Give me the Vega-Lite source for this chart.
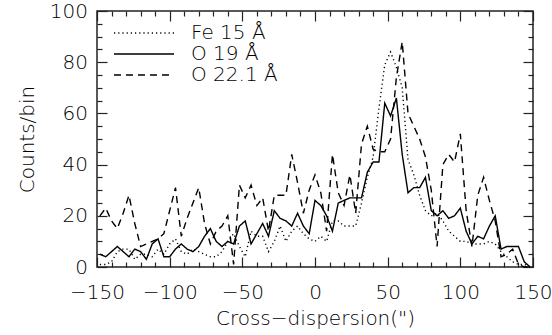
{
  "$schema": "https://vega.github.io/schema/vega-lite/v6.json",
  "width": 436,
  "height": 256,
  "autosize": "none",
  "padding": {"left": 97, "top": 11, "right": 19, "bottom": 68},
  "background": "white",
  "config": {
    "view": {"stroke": "#222", "strokeWidth": 1.5},
    "font": "DejaVu Sans",
    "axis": {
      "labelFont": "DejaVu Sans", "labelFontSize": 20, "labelFontWeight": 200, "labelColor": "#000",
      "titleFont": "DejaVu Sans", "titleFontSize": 20, "titleFontWeight": 200, "titleColor": "#000",
      "grid": false, "domain": false, "tickColor": "#222", "tickWidth": 1.2
    }
  },
  "data": {"values": [
    {"x": -148, "fe15": 1, "o19": 5, "o221": 20},
    {"x": -144, "fe15": 1, "o19": 4, "o221": 23},
    {"x": -140, "fe15": 2, "o19": 6, "o221": 18},
    {"x": -136, "fe15": 6, "o19": 8, "o221": 15},
    {"x": -132, "fe15": 7, "o19": 6, "o221": 21},
    {"x": -128, "fe15": 7, "o19": 4, "o221": 28},
    {"x": -124, "fe15": 3, "o19": 7, "o221": 17},
    {"x": -120, "fe15": 5, "o19": 6, "o221": 8},
    {"x": -116, "fe15": 5, "o19": 3, "o221": 9},
    {"x": -112, "fe15": 4, "o19": 9, "o221": 10},
    {"x": -108, "fe15": 7, "o19": 11, "o221": 11},
    {"x": -104, "fe15": 5, "o19": 4, "o221": 13},
    {"x": -100, "fe15": 9, "o19": 4, "o221": 22},
    {"x": -96, "fe15": 11, "o19": 7, "o221": 31},
    {"x": -92, "fe15": 6, "o19": 9, "o221": 12},
    {"x": -88, "fe15": 5, "o19": 7, "o221": 19},
    {"x": -84, "fe15": 7, "o19": 6, "o221": 25},
    {"x": -80, "fe15": 6, "o19": 8, "o221": 31},
    {"x": -76, "fe15": 5, "o19": 12, "o221": 17},
    {"x": -72, "fe15": 4, "o19": 15, "o221": 9},
    {"x": -68, "fe15": 4, "o19": 10, "o221": 14},
    {"x": -64, "fe15": 6, "o19": 8, "o221": 16},
    {"x": -60, "fe15": 10, "o19": 10, "o221": 20},
    {"x": -56, "fe15": 13, "o19": 9, "o221": 1},
    {"x": -52, "fe15": 8, "o19": 16, "o221": 32},
    {"x": -48, "fe15": 4, "o19": 18, "o221": 27},
    {"x": -44, "fe15": 14, "o19": 9, "o221": 32},
    {"x": -40, "fe15": 12, "o19": 13, "o221": 24},
    {"x": -36, "fe15": 12, "o19": 17, "o221": 27},
    {"x": -32, "fe15": 6, "o19": 12, "o221": 14},
    {"x": -28, "fe15": 10, "o19": 22, "o221": 28},
    {"x": -24, "fe15": 16, "o19": 19, "o221": 28},
    {"x": -20, "fe15": 10, "o19": 18, "o221": 28},
    {"x": -16, "fe15": 14, "o19": 16, "o221": 44},
    {"x": -12, "fe15": 16, "o19": 21, "o221": 33},
    {"x": -8, "fe15": 13, "o19": 16, "o221": 21},
    {"x": -4, "fe15": 11, "o19": 13, "o221": 30},
    {"x": 0, "fe15": 10, "o19": 26, "o221": 36},
    {"x": 4, "fe15": 12, "o19": 24, "o221": 29},
    {"x": 8, "fe15": 10, "o19": 20, "o221": 14},
    {"x": 12, "fe15": 18, "o19": 14, "o221": 44},
    {"x": 16, "fe15": 18, "o19": 25, "o221": 29},
    {"x": 20, "fe15": 16, "o19": 26, "o221": 24},
    {"x": 24, "fe15": 16, "o19": 27, "o221": 36},
    {"x": 28, "fe15": 16, "o19": 27, "o221": 21},
    {"x": 32, "fe15": 25, "o19": 27, "o221": 48},
    {"x": 36, "fe15": 35, "o19": 37, "o221": 55},
    {"x": 40, "fe15": 43, "o19": 41, "o221": 46},
    {"x": 44, "fe15": 62, "o19": 41, "o221": 45},
    {"x": 48, "fe15": 79, "o19": 64, "o221": 45},
    {"x": 52, "fe15": 84, "o19": 59, "o221": 50},
    {"x": 56, "fe15": 78, "o19": 66, "o221": 74},
    {"x": 60, "fe15": 70, "o19": 44, "o221": 88},
    {"x": 64, "fe15": 42, "o19": 29, "o221": 60},
    {"x": 68, "fe15": 36, "o19": 31, "o221": 55},
    {"x": 72, "fe15": 28, "o19": 31, "o221": 50},
    {"x": 76, "fe15": 22, "o19": 35, "o221": 43},
    {"x": 80, "fe15": 20, "o19": 22, "o221": 30},
    {"x": 84, "fe15": 21, "o19": 20, "o221": 8},
    {"x": 88, "fe15": 18, "o19": 22, "o221": 40},
    {"x": 92, "fe15": 14, "o19": 19, "o221": 44},
    {"x": 96, "fe15": 12, "o19": 20, "o221": 41},
    {"x": 100, "fe15": 10, "o19": 23, "o221": 52},
    {"x": 104, "fe15": 10, "o19": 14, "o221": 22},
    {"x": 108, "fe15": 9, "o19": 9, "o221": 8},
    {"x": 112, "fe15": 9, "o19": 12, "o221": 28},
    {"x": 116, "fe15": 9, "o19": 11, "o221": 35},
    {"x": 120, "fe15": 10, "o19": 16, "o221": 26},
    {"x": 124, "fe15": 9, "o19": 20, "o221": 18},
    {"x": 128, "fe15": 6, "o19": 7, "o221": 4},
    {"x": 132, "fe15": 4, "o19": 8, "o221": 5},
    {"x": 136, "fe15": 2, "o19": 8, "o221": 7},
    {"x": 140, "fe15": 1, "o19": 8, "o221": 1},
    {"x": 144, "fe15": 1, "o19": 2, "o221": 0},
    {"x": 148, "fe15": 0, "o19": 0, "o221": 0}
  ]},
  "transform": [{"fold": ["fe15", "o19", "o221"], "as": ["line", "count"]}],
  "layer": [
    {
      "mark": {"type": "line", "color": "#000", "strokeWidth": 1.4},
      "encoding": {
        "x": {
          "field": "x", "type": "quantitative",
          "scale": {"domain": [-150, 150], "nice": false, "zero": false},
          "axis": {
            "orient": "bottom",
            "values": [-150, -100, -50, 0, 50, 100, 150],
            "tickSize": -10,
            "labelPadding": 25, "labelFlush": false, "labelOverlap": false,
            "title": "Cross−dispersion(\")", "titlePadding": 6
          }
        },
        "y": {
          "field": "count", "type": "quantitative",
          "scale": {"domain": [0, 100], "nice": false},
          "axis": {
            "orient": "left",
            "values": [0, 20, 40, 60, 80, 100],
            "tickSize": -10,
            "labelPadding": 19.5, "labelFlush": false, "labelOverlap": false,
            "title": "Counts/bin", "titlePadding": 12
          }
        },
        "strokeDash": {
          "field": "line", "type": "nominal",
          "scale": {"domain": ["fe15", "o19", "o221"], "range": [[1.2, 3], [1, 0], [7, 5]]},
          "legend": {
            "orient": "none", "legendX": 36, "legendY": 11, "title": null,
            "symbolType": "M-3,0H3", "symbolSize": 400, "symbolStrokeColor": "#000", "symbolStrokeWidth": 1.4,
            "symbolFillColor": "transparent",
            "labelOffset": 36, "rowPadding": 0,
            "labelFont": "DejaVu Sans", "labelFontSize": 20, "labelFontWeight": 200, "labelColor": "#000",
            "labelExpr": "{'fe15': 'Fe 15 Å', 'o19': 'O 19 Å', 'o221': 'O 22.1 Å'}[datum.label]"
          }
        }
      }
    },
    {
      "mark": {"type": "point", "opacity": 0},
      "encoding": {
        "x": {
          "field": "x", "type": "quantitative",
          "axis": {
            "orient": "bottom", "labels": false, "title": null,
            "values": [-140, -130, -120, -110, -90, -80, -70, -60, -40, -30, -20, -10, 10, 20, 30, 40, 60, 70, 80, 90, 110, 120, 130, 140],
            "tickSize": -5
          }
        },
        "y": {
          "field": "count", "type": "quantitative",
          "axis": {
            "orient": "left", "labels": false, "title": null,
            "values": [5, 10, 15, 25, 30, 35, 45, 50, 55, 65, 70, 75, 85, 90, 95],
            "tickSize": -5
          }
        }
      }
    },
    {
      "mark": {"type": "point", "opacity": 0},
      "encoding": {
        "x": {
          "field": "x", "type": "quantitative",
          "axis": {
            "orient": "top", "labels": false, "title": null,
            "values": [-150, -100, -50, 0, 50, 100, 150],
            "tickSize": -10
          }
        },
        "y": {
          "field": "count", "type": "quantitative",
          "axis": {
            "orient": "right", "labels": false, "title": null,
            "values": [0, 20, 40, 60, 80, 100],
            "tickSize": -10
          }
        }
      }
    },
    {
      "mark": {"type": "point", "opacity": 0},
      "encoding": {
        "x": {
          "field": "x", "type": "quantitative",
          "axis": {
            "orient": "top", "labels": false, "title": null,
            "values": [-140, -130, -120, -110, -90, -80, -70, -60, -40, -30, -20, -10, 10, 20, 30, 40, 60, 70, 80, 90, 110, 120, 130, 140],
            "tickSize": -5
          }
        },
        "y": {
          "field": "count", "type": "quantitative",
          "axis": {
            "orient": "right", "labels": false, "title": null,
            "values": [5, 10, 15, 25, 30, 35, 45, 50, 55, 65, 70, 75, 85, 90, 95],
            "tickSize": -5
          }
        }
      }
    }
  ],
  "resolve": {"axis": {"x": "independent", "y": "independent"}}
}
